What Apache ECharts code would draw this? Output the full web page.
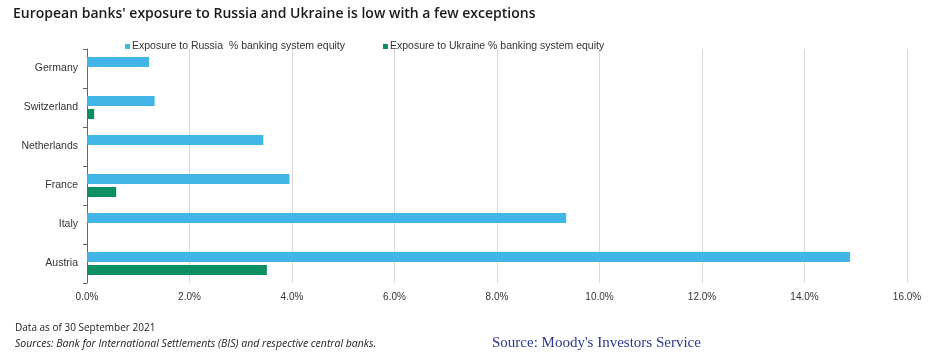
<!DOCTYPE html>
<html><head><meta charset="utf-8">
<script src="https://cdn.jsdelivr.net/npm/echarts@6/dist/echarts.min.js"></script>
<style>html,body{margin:0;padding:0;background:#fff;}#c{width:943px;height:362px;}</style>
</head><body><div id="c"></div>
<script>
const categories = ['Germany','Switzerland','Netherlands','France','Italy','Austria'];
const russia = [1.21, 1.32, 3.44, 3.95, 9.35, 14.89];
const ukraine = [null, 0.14, null, 0.57, null, 3.51];
const xTicks = [0,2,4,6,8,10,12,14,16];
const seriesNames = ['Exposure to Russia  % banking system equity','Exposure to Ukraine % banking system equity'];

const chart = echarts.init(document.getElementById('c'));
chart.setOption({
  animation:false,
  backgroundColor:'#fff',
  title:[
    {text:"European banks' exposure to Russia and Ukraine is low with a few exceptions",left:8,top:2,
     textStyle:{fontFamily:'Open Sans',fontWeight:600,fontSize:14,color:'#1a1a1a'}},
    {text:'Data as of 30 September 2021',left:10,top:318,textStyle:{fontFamily:'Open Sans',fontWeight:'normal',fontSize:10,color:'#222'}},
    {text:'Sources: Bank for International Settlements (BIS) and respective central banks.',left:10,top:334,textStyle:{fontFamily:'Open Sans',fontStyle:'italic',fontWeight:'normal',fontSize:10.5,color:'#222'}},
    {text:"Source: Moody's Investors Service",left:487,top:331,textStyle:{fontFamily:'Liberation Serif',fontWeight:'normal',fontSize:15,color:'#2b3990'}}
  ],
  legend:{left:120,top:36,itemWidth:5,itemHeight:5,itemGap:38,icon:'rect',
    textStyle:{fontFamily:'Liberation Sans',fontSize:10.5,color:'#333',padding:[0,0,0,-3]},
    data:seriesNames},
  grid:{left:87,right:36,top:49,bottom:79},
  xAxis:{type:'value',min:0,max:16,interval:2,
    axisLine:{show:false},axisTick:{show:false},
    splitLine:{lineStyle:{color:'#d9d9d9'}},
    axisLabel:{formatter:v=>v.toFixed(1)+'%',fontFamily:'Liberation Sans',fontSize:10,color:'#333',margin:9}},
  yAxis:{type:'category',data:categories,inverse:true,
    axisLine:{lineStyle:{color:'#666'}},
    axisTick:{show:true,length:4,lineStyle:{color:'#666'}},
    axisLabel:{fontFamily:'Liberation Sans',fontSize:10.5,color:'#333',margin:9}},
  series:[
    {name:seriesNames[0],type:'bar',data:russia,barWidth:10,barGap:'30%',itemStyle:{color:'#41b6e6'}},
    {name:seriesNames[1],type:'bar',data:ukraine,barWidth:10,itemStyle:{color:'#0b8f63'}}
  ]
});
</script></body></html>
